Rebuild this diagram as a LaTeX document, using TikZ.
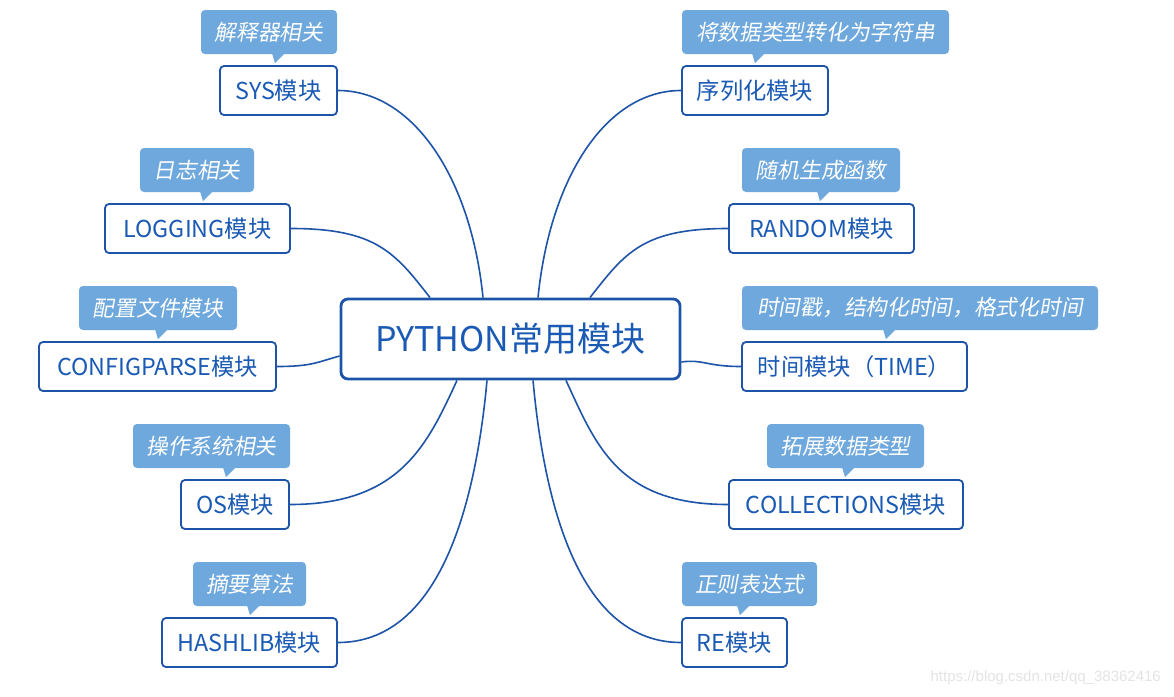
\documentclass[tikz,border=0pt]{standalone}
\usepackage{fontspec}
\setmainfont{Noto Sans CJK SC}
\newfontfamily\cjkit[FakeSlant=0.18]{Noto Sans CJK SC}
\newfontfamily\wmfont{Liberation Sans}
\usetikzlibrary{calc}
\definecolor{bord}{RGB}{30,84,168}
\definecolor{txt}{RGB}{26,90,180}
\definecolor{cfill}{RGB}{111,168,220}
\definecolor{wm}{RGB}{228,228,228}
\newcommand\callptr[2]{\fill[cfill] ($(#1.south)+(#2-3,-1)$) -- ++(13,0) -- ++(-10,10) -- cycle;}
\begin{document}
\begin{tikzpicture}[x=1pt,y=-1pt,
  mod/.style={draw=bord,line width=1.8pt,rounded corners=4pt,fill=white,text=txt,
    font=\fontsize{23.3}{27}\selectfont,inner sep=0pt,minimum height=49pt},
  call/.style={fill=cfill,rounded corners=4pt,text=white,
    font=\cjkit\fontsize{21.7}{26}\selectfont,inner sep=0pt,minimum height=44pt},
  link/.style={draw=bord,line width=1.6pt}]
\useasboundingbox[fill=white] (0,0) rectangle (1174,696);

% central
\node[draw=bord,line width=2.8pt,rounded corners=7pt,fill=white,text=txt,
  font=\fontsize{34}{39}\selectfont,inner sep=0pt,minimum width=339pt,minimum height=80pt]
  (c) at (510.5,339) {PYTHON常用模块};

% left modules
\node[mod,minimum width=117pt] (sys) at (278.5,90.5) {SYS模块};
\node[call,minimum width=136pt] (csys) at (269,32) {解释器相关};
\node[mod,minimum width=185pt] (log) at (197.5,228.5) {LOGGING模块};
\node[call,minimum width=114pt] (clog) at (197,170) {日志相关};
\node[mod,minimum width=237pt] (cfg) at (157.5,366.5) {CONFIGPARSE模块};
\node[call,minimum width=158pt] (ccfg) at (158,308) {配置文件模块};
\node[mod,minimum width=108pt] (os) at (235,504.5) {OS模块};
\node[call,minimum width=157pt] (cos) at (211.5,446) {操作系统相关};
\node[mod,minimum width=175pt] (hash) at (249.5,642.5) {HASHLIB模块};
\node[call,minimum width=113pt] (chash) at (249.5,584) {摘要算法};

% right modules
\node[mod,minimum width=146pt] (ser) at (755,90.5) {序列化模块};
\node[call,minimum width=267pt] (cser) at (815.5,32) {将数据类型转化为字符串};
\node[mod,minimum width=185pt] (rnd) at (821.5,228.5) {RANDOM模块};
\node[call,minimum width=158pt] (crnd) at (821,170) {随机生成函数};
\node[mod,minimum width=225pt] (time) at (854.5,366.5) {时间模块（TIME）};
\node[call,minimum width=356pt] (ctime) at (920,308) {时间戳，结构化时间，格式化时间};
\node[mod,minimum width=234pt] (col) at (846,504.5) {COLLECTIONS模块};
\node[call,minimum width=157pt] (ccol) at (845.5,446) {拓展数据类型};
\node[mod,minimum width=105pt] (re) at (734.5,642.5) {RE模块};
\node[call,minimum width=135pt] (cre) at (749.5,584) {正则表达式};

% pointers
\callptr{csys}{6}
\callptr{clog}{6}
\callptr{ccfg}{0}
\callptr{cos}{14.5}
\callptr{chash}{0.5}
\callptr{cser}{-60.5}
\callptr{crnd}{-1}
\callptr{ctime}{-34}
\callptr{ccol}{-0.5}
\callptr{cre}{-9.5}

% connectors
\draw[link] (sys.east) .. controls +(75,0) and +(-12,-120) .. ($(c.north)+(-27.5,0)$);
\draw[link] (log.east) .. controls +(85,0) and +(-35,-45) .. ($(c.north)+(-80.5,0)$);
\draw[link] (cfg.east) .. controls +(35,0) and +(-22,6) .. ($(c.west)+(0,17)$);
\draw[link] (os.east) .. controls +(110,0) and +(-30,65) .. ($(c.south)+(-53.5,0)$);
\draw[link] (hash.east) .. controls +(100,0) and +(-12,130) .. ($(c.south)+(-23.5,0)$);
\draw[link] (ser.west) .. controls +(-75,0) and +(12,-120) .. ($(c.north)+(27.5,0)$);
\draw[link] (rnd.west) .. controls +(-85,0) and +(35,-45) .. ($(c.north)+(79.5,0)$);
\draw[link] (time.west) .. controls +(-35,0) and +(22,-3) .. ($(c.east)+(0,23)$);
\draw[link] (col.west) .. controls +(-110,0) and +(30,65) .. ($(c.south)+(55.5,0)$);
\draw[link] (re.west) .. controls +(-100,0) and +(12,130) .. ($(c.south)+(22.5,0)$);

% watermark
\node[anchor=east,text=wm,font=\wmfont\fontsize{15}{18}\selectfont,inner sep=0pt] (wmk) at (1161,678) {https://blog.csdn.net/qq\_38362416};
\end{tikzpicture}
\end{document}
